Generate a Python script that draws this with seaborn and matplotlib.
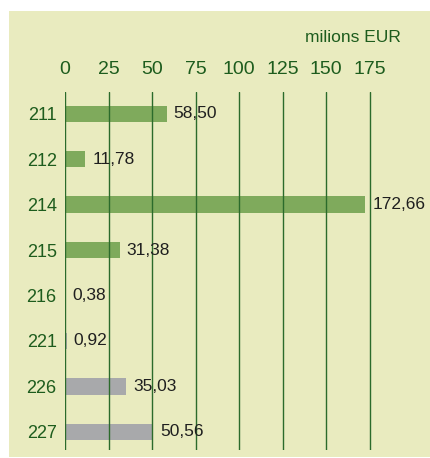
import matplotlib
matplotlib.use("Agg")
import matplotlib.pyplot as plt
import seaborn as sns
import pandas as pd
from matplotlib.patches import Rectangle

categories = ["211", "212", "214", "215", "216", "221", "226", "227"]
values = [58.50, 11.78, 172.66, 31.38, 0.38, 0.92, 35.03, 50.56]
value_labels = ["58,50", "11,78", "172,66", "31,38", "0,38", "0,92", "35,03", "50,56"]
groups = ["a", "a", "a", "a", "a", "b", "b", "b"]
x_ticks = [0, 25, 50, 75, 100, 125, 150, 175]
unit_label = "milions EUR"

sns.set_theme(style="white")
plt.rcParams['font.family'] = ['Liberation Sans', 'DejaVu Sans']

W, H = 431, 458
fig = plt.figure(figsize=(W / 100, H / 100), dpi=100)
fig.patch.set_facecolor("white")
bg = "#e9ebbf"
fig.add_artist(Rectangle((9 / W, 1 / H), 1, (457 - 11) / H, transform=fig.transFigure,
                         facecolor=bg, edgecolor="none", zorder=-10))

left, right = 65, 65 + 200 * 1.74
top, bottom = 92, 450
ax = fig.add_axes([left / W, 1 - bottom / H, (right - left) / W, (bottom - top) / H])
ax.set_facecolor("none")
ax.set_zorder(1)

df = pd.DataFrame({"cat": categories, "val": values, "grp": categories})
palette = {c: ("#7faa5c" if g == "a" else "#a8a9ab") for c, g in zip(categories, groups)}
sns.barplot(data=df, x="val", y="cat", hue="grp", palette=palette, legend=False,
            width=0.36, ax=ax, saturation=1, zorder=2, linewidth=0, edgecolor="none")

ax.set_xlim(0, 200)
ax.set_ylim(7.4, -0.48)
for t in x_ticks:
    ax.axvline(t, color="#2b6b2b", lw=1.0, zorder=3)
for i, (v, lab) in enumerate(zip(values, value_labels)):
    ax.annotate(lab, (v, i), xytext=(7, 0), textcoords="offset pixels",
                ha="left", va="center", fontsize=12.5, color="#1f1f1f", zorder=4)

ax.xaxis.tick_top()
ax.set_xticks(x_ticks)
ax.set_xticklabels([str(t) for t in x_ticks])
ax.tick_params(axis="x", length=0, pad=10, labelsize=14, colors="#1d5c1d")
ax.tick_params(axis="y", length=0, pad=6, labelsize=13, colors="#1d5c1d")
ax.set_xlabel("")
ax.set_ylabel("")
for s in ax.spines.values():
    s.set_visible(False)

fig.text(401 / W, 1 - 38 / H, unit_label, ha="right", va="center", fontsize=12.5,
         color="#1d5c1d")

fig.savefig("out.png", dpi=100, facecolor=fig.get_facecolor())
